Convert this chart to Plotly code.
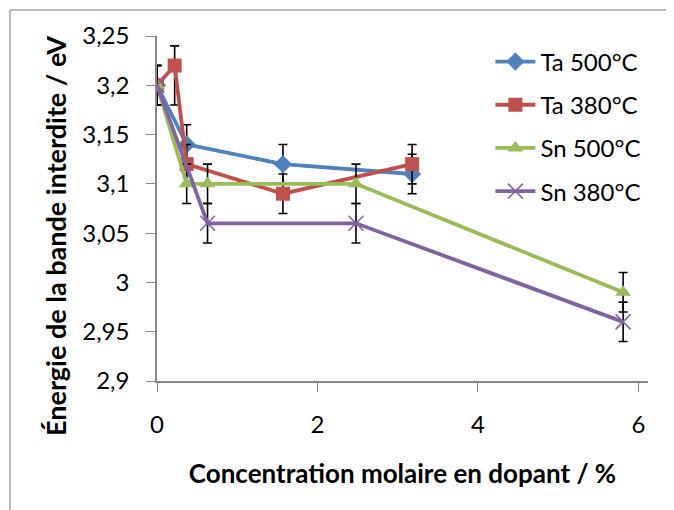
import plotly.graph_objects as go

# x = concentration molaire en dopant (%), y = énergie de la bande interdite (eV)
ta500_x = [0, 0.37, 1.57, 3.18]
ta500_y = [3.20, 3.14, 3.12, 3.11]
ta380_x = [0, 0.22, 0.37, 1.57, 3.18]
ta380_y = [3.20, 3.22, 3.12, 3.09, 3.12]
ta380_err_minus = [0.02, 0.04, 0.02, 0.02, 0.02]
sn500_x = [0, 0.37, 0.63, 2.48, 5.81]
sn500_y = [3.20, 3.10, 3.10, 3.10, 2.99]
sn380_x = [0, 0.63, 2.48, 5.81]
sn380_y = [3.20, 3.06, 3.06, 2.96]
err = 0.02

font = "Lato, 'Open Sans', sans-serif"

def errbar(minus=None):
    d = dict(type="constant", value=err, color="black", thickness=1.6, width=4.5)
    if minus is not None:
        d = dict(type="data", symmetric=False, array=[err] * len(minus), arrayminus=minus,
                 color="black", thickness=1.6, width=4.5)
    return d

fig = go.Figure()
fig.add_trace(go.Scatter(x=ta500_x, y=ta500_y, name="Ta 500°C", mode="lines+markers",
                         line=dict(color="#4F81BD", width=3.8),
                         marker=dict(symbol="diamond", size=14, color="#4F81BD"),
                         error_y=errbar(), legendgroup="a"))
fig.add_trace(go.Scatter(x=ta380_x, y=ta380_y, name="Ta 380°C", mode="lines+markers",
                         line=dict(color="#C0504D", width=3.8),
                         marker=dict(symbol="square", size=14, color="#C0504D"),
                         error_y=errbar(ta380_err_minus), legendgroup="b"))
fig.add_trace(go.Scatter(x=sn500_x, y=sn500_y, name="Sn 500°C", mode="lines+markers",
                         line=dict(color="#9BBB59", width=3.8),
                         marker=dict(symbol="triangle-up", size=14, color="#9BBB59"),
                         error_y=errbar(), legendgroup="c"))
fig.add_trace(go.Scatter(x=sn380_x, y=sn380_y, name="Sn 380°C", mode="lines+markers",
                         line=dict(color="#8064A2", width=3.8),
                         marker=dict(symbol="x-thin-open", size=15, color="#8064A2",
                                     line=dict(color="#8064A2", width=1.5)),
                         error_y=errbar(), legendgroup="d"))

# chart frame (top and left edges visible)
fig.add_shape(type="line", xref="paper", yref="paper", x0=-0.2994, x1=1.2, y0=1.0754, y1=1.0754,
              line=dict(color="#A6A6A6", width=1.5))
fig.add_shape(type="line", xref="paper", yref="paper", x0=-0.2994, x1=-0.2994, y0=-0.5, y1=1.0754,
              line=dict(color="#A6A6A6", width=1.5))

# y-axis title, placed a little below the plot centre as in the original
fig.add_annotation(text="<b>Énergie de la bande interdite / eV</b>", textangle=-90,
                   xref="paper", yref="paper", x=-0.208, y=0.42, showarrow=False,
                   xanchor="center", yanchor="middle", font=dict(size=27))

fig.update_layout(
    width=666, height=502,
    margin=dict(l=149, r=26, t=28, b=129),
    plot_bgcolor="white", paper_bgcolor="white",
    separators=", ",
    font=dict(family=font, size=24, color="black"),
    legend=dict(x=0.679, y=0.99, xanchor="left", yanchor="top", tracegroupgap=9,
                itemwidth=40, font=dict(size=24), bgcolor="rgba(0,0,0,0)"),
    xaxis=dict(range=[0, 6.12], tickvals=[0, 2, 4, 6], showgrid=False, zeroline=False,
               showline=True, linecolor="#878787", linewidth=1.5,
               ticks="outside", ticklen=9, tickcolor="#878787", ticklabelstandoff=12,
               automargin=False,
               title=dict(text="<b>Concentration molaire en dopant / %</b>", standoff=28,
                          font=dict(size=26))),
    yaxis=dict(range=[2.9, 3.25], dtick=0.05, showgrid=False, zeroline=False,
               showline=True, linecolor="#878787", linewidth=1.5,
               ticks="outside", ticklen=9, tickcolor="#878787", ticklabelstandoff=12,
               automargin=False),
)

fig.write_html("out.html")
